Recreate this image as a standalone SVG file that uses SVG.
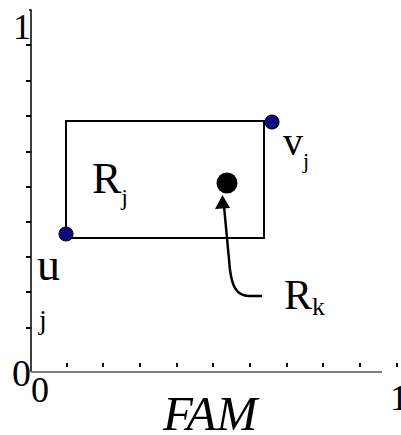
<svg xmlns="http://www.w3.org/2000/svg" width="401" height="435" viewBox="0 0 401 435">
<style>
text{font-family:'Liberation Serif','Times New Roman',serif;fill:#000}
.ax{stroke:#000;stroke-width:1.5;fill:none}
.tk{stroke:#000;stroke-width:2}
.pt{fill:#0a0a80;stroke:#000;stroke-width:1.2}
</style>
<g id="axes">
<path class="ax" d="M29,10 H31 V372"/>
<g class="tk">
<line x1="26" y1="45" x2="31" y2="45"/>
<line x1="26" y1="81" x2="31" y2="81"/>
<line x1="26" y1="116" x2="31" y2="116"/>
<line x1="26" y1="152" x2="31" y2="152"/>
<line x1="26" y1="187" x2="31" y2="187"/>
<line x1="26" y1="222" x2="31" y2="222"/>
<line x1="26" y1="257" x2="31" y2="257"/>
<line x1="26" y1="292" x2="31" y2="292"/>
<line x1="26" y1="328" x2="31" y2="328"/>
</g>
<line x1="31" y1="372" x2="382" y2="372" stroke="#808080" stroke-width="2"/>
<g class="tk">
<line x1="67" y1="363" x2="67" y2="367"/>
<line x1="103" y1="363" x2="103" y2="367"/>
<line x1="140" y1="363" x2="140" y2="367"/>
<line x1="177" y1="363" x2="177" y2="367"/>
<line x1="213" y1="363" x2="213" y2="367"/>
<line x1="250" y1="363" x2="250" y2="367"/>
<line x1="287" y1="363" x2="287" y2="367"/>
<line x1="323" y1="363" x2="323" y2="367"/>
<line x1="360" y1="363" x2="360" y2="367"/>
<line x1="397" y1="363" x2="397" y2="367"/>
</g>
<text x="13" y="39" font-size="36">1</text>
<text x="12" y="386" font-size="38">0</text>
<text x="31" y="402" font-size="36">0</text>
<text x="390" y="410" font-size="36">1</text>
<text x="163" y="430" font-size="49" font-style="italic">FAM</text>
</g>
<g id="Rj">
<rect x="66" y="121" width="198" height="117" fill="none" stroke="#000" stroke-width="2"/>
<text x="92" y="193" font-size="44">R<tspan dy="12" font-size="24">j</tspan></text>
</g>
<g id="uj">
<circle class="pt" cx="66" cy="234" r="7"/>
<text x="37" y="280" font-size="46">u</text>
<text x="39" y="329" font-size="28">j</text>
</g>
<g id="vj">
<circle class="pt" cx="272" cy="122" r="7"/>
<text x="283" y="155" font-size="40">v<tspan dy="13" font-size="22">j</tspan></text>
</g>
<g id="Rk">
<circle cx="227" cy="183" r="10.5" fill="#000"/>
<text x="284" y="309" font-size="42">R<tspan dy="6" font-size="26">k</tspan></text>
</g>
<g id="connectors">
<path d="M262,296 H249 C236,296 232,285 230,270 L224,206" fill="none" stroke="#000" stroke-width="2.5"/>
<path d="M222.5,195 L215,209 L230,208 Z" fill="#000"/>
</g>
</svg>
